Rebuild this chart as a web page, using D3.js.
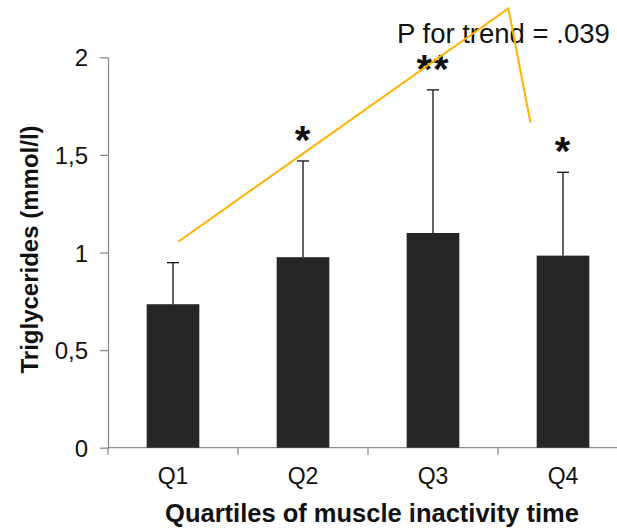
<!DOCTYPE html>
<meta charset="utf-8">
<style>
body { margin: 0; background: #fff; }
svg { display: block; }
.axis path, .axis line { stroke: #8c8c8c; stroke-width: 1.3px; }
.axis text { font-family: "Liberation Sans", Arial, sans-serif; fill: #111; }
.title { font-family: "Liberation Sans", Arial, sans-serif; font-weight: bold; fill: #111; }
.star { font-family: "Liberation Sans", Arial, sans-serif; font-weight: bold; font-size: 40px; fill: #111; letter-spacing: 1px; }
.ptext { font-family: "Liberation Sans", Arial, sans-serif; font-size: 27.5px; fill: #111; }
</style>
<body>
<svg id="svg" width="617" height="530"></svg>
<script src="https://cdnjs.cloudflare.com/ajax/libs/d3/7.8.5/d3.min.js"></script>
<script>

var quartiles = ["Q1", "Q2", "Q3", "Q4"];
var means = [0.735, 0.976, 1.10, 0.984];
var errTops = [0.948, 1.469, 1.833, 1.411];
var stars = ["", "*", "**", "*"];
var yTicks = [0, 0.5, 1, 1.5, 2];

// trend annotation, x in category index units, y in mmol/l
var trendX = [0.04, 2.58, 2.75];
var trendY = [1.055, 2.25, 1.665];
var trendLabel = "P for trend = .039";

var svg = d3.select("svg"),
    margin = {top: 57.3, left: 108},
    width = 520,
    height = 390.4,
    g = svg.append("g").attr("transform", "translate(" + margin.left + "," + margin.top + ")");

var x = d3.scaleBand().domain(quartiles).range([0, width]).paddingInner(0.595).paddingOuter(0.2975),
    xc = d3.scaleBand().domain(quartiles).range([0, width]),
    xi = d3.scaleLinear().domain([-0.5, 3.5]).range([0, width]),
    y = d3.scaleLinear().domain([0, 2]).range([height, 0]);

// y axis
var yAxis = g.append("g")
    .attr("class", "axis")
    .call(d3.axisLeft(y).tickValues(yTicks).tickSize(8).tickSizeOuter(0).tickPadding(12)
      .tickFormat(function(d) { return String(d).replace(".", ","); }));
yAxis.selectAll("text").style("font-size", "24px").attr("dy", "0.36em");

// x axis: labels at centers, ticks at the category boundaries
var xAxis = g.append("g")
    .attr("class", "axis")
    .attr("transform", "translate(0," + height + ")")
    .call(d3.axisBottom(xc).tickSize(0).tickPadding(20));
xAxis.select(".domain").remove();
xAxis.selectAll("text").style("font-size", "23px").attr("dy", "0.71em");
xAxis.append("line")
    .attr("x1", 0).attr("x2", width + 20)
    .attr("y1", 0).attr("y2", 0);
xAxis.selectAll(".bound")
    .data(quartiles.concat(["end"]))
  .enter().append("line")
    .attr("class", "bound")
    .attr("x1", function(d, i) { return i * xc.step(); })
    .attr("x2", function(d, i) { return i * xc.step(); })
    .attr("y1", 0).attr("y2", 7);

// bars
g.selectAll(".bar")
    .data(quartiles)
  .enter().append("rect")
    .attr("class", "bar")
    .attr("x", function(d) { return x(d); })
    .attr("y", function(d, i) { return y(means[i]); })
    .attr("width", x.bandwidth())
    .attr("height", function(d, i) { return height - y(means[i]); })
    .style("fill", "#262626");

// error bars
var err = g.selectAll(".err")
    .data(quartiles)
  .enter().append("g")
    .attr("class", "err")
    .style("stroke", "#111")
    .style("stroke-width", 1.3);
err.append("line")
    .attr("x1", function(d) { return x(d) + x.bandwidth() / 2; })
    .attr("x2", function(d) { return x(d) + x.bandwidth() / 2; })
    .attr("y1", function(d, i) { return y(means[i]); })
    .attr("y2", function(d, i) { return y(errTops[i]); });
err.append("line")
    .attr("x1", function(d) { return x(d) + x.bandwidth() / 2 - 6; })
    .attr("x2", function(d) { return x(d) + x.bandwidth() / 2 + 6; })
    .attr("y1", function(d, i) { return y(errTops[i]); })
    .attr("y2", function(d, i) { return y(errTops[i]); });

// significance stars
g.selectAll(".star")
    .data(quartiles)
  .enter().append("text")
    .attr("class", "star")
    .attr("text-anchor", "middle")
    .attr("x", function(d) { return x(d) + x.bandwidth() / 2; })
    .attr("y", function(d, i) { return y(errTops[i]) - 7; })
    .text(function(d, i) { return stars[i]; });

// trend text and line
g.append("text")
    .attr("class", "ptext")
    .attr("x", 289)
    .attr("y", 42.7 - margin.top)
    .text(trendLabel);

var line = d3.line()
    .x(function(d) { return xi(d[0]); })
    .y(function(d) { return y(d[1]); });

g.append("path")
    .datum(d3.zip(trendX, trendY))
    .attr("d", line)
    .style("fill", "none")
    .style("stroke", "#FFB300")
    .style("stroke-width", 2);

// axis titles
svg.append("text")
    .attr("class", "title")
    .attr("transform", "translate(38," + (margin.top + height / 2 - 3) + ") rotate(-90)")
    .attr("text-anchor", "middle")
    .style("font-size", "24px")
    .text("Triglycerides (mmol/l)");

svg.append("text")
    .attr("class", "title")
    .attr("x", 372)
    .attr("y", 521.5)
    .attr("text-anchor", "middle")
    .style("font-size", "25.5px")
    .text("Quartiles of muscle inactivity time");

</script>
</body>
